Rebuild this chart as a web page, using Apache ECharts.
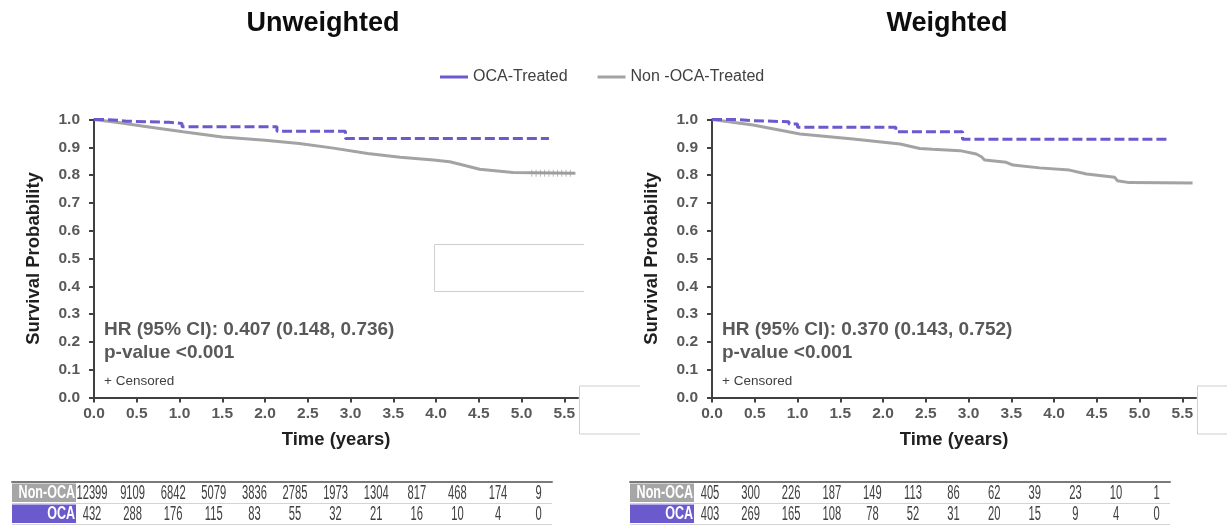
<!DOCTYPE html>
<html>
<head>
<meta charset="utf-8">
<script src="https://cdn.jsdelivr.net/npm/echarts@6/dist/echarts.min.js"></script>
<style>
html,body{margin:0;padding:0;background:#fff;}
#chart{width:1227px;height:527px;}
</style>
</head>
<body>
<div id="chart"></div>
<script>
// ---------- DATA ----------
const xTicks = [0, 0.5, 1, 1.5, 2, 2.5, 3, 3.5, 4, 4.5, 5, 5.5];
const timePoints = [0, 0.5, 1, 1.5, 2, 2.5, 3, 3.5, 4, 4.5, 5, 5.5];
const rowLabels = ['Non-OCA', 'OCA'];

// Kaplan-Meier curves [time, survival]
const ocaUnweighted = [[0,1.0],[0.12,0.997],[0.3,0.994],[0.38,0.99],[0.88,0.986],[1.03,0.974],[2.14,0.958],[2.94,0.932],[5.32,0.932]];
const nonOcaUnweighted = [[0,1.0],[0.3,0.988],[0.6,0.975],[1.04,0.956],[1.5,0.937],[2.0,0.925],[2.4,0.914],[2.8,0.897],[3.2,0.878],[3.58,0.864],[3.97,0.854],[4.16,0.848],[4.36,0.833],[4.51,0.821],[4.75,0.814],[4.9,0.809],[5.63,0.807]];
const ocaWeighted = [[0,1.0],[0.3,0.996],[0.48,0.992],[0.9,0.984],[1.0,0.972],[2.15,0.956],[2.93,0.929],[5.33,0.929]];
const nonOcaWeighted = [[0,1.0],[0.48,0.980],[1.03,0.948],[1.65,0.930],[2.2,0.912],[2.43,0.896],[2.58,0.893],[2.9,0.888],[3.09,0.876],[3.15,0.866],[3.19,0.854],[3.44,0.846],[3.52,0.836],[3.83,0.826],[4.18,0.818],[4.38,0.804],[4.71,0.792],[4.74,0.780],[4.88,0.773],[5.62,0.772]];
const censorNonOcaUnweighted = [[5.12,0.807],[5.17,0.807],[5.22,0.807],[5.27,0.807],[5.32,0.807],[5.37,0.807],[5.42,0.807],[5.47,0.807],[5.52,0.807],[5.57,0.807]];

// Numbers at risk
const riskNonOcaUnweighted = [12399, 9109, 6842, 5079, 3836, 2785, 1973, 1304, 817, 468, 174, 9];
const riskOcaUnweighted = [432, 288, 176, 115, 83, 55, 32, 21, 16, 10, 4, 0];
const riskNonOcaWeighted = [405, 300, 226, 187, 149, 113, 86, 62, 39, 23, 10, 1];
const riskOcaWeighted = [403, 269, 165, 108, 78, 52, 31, 20, 15, 9, 4, 0];

const titles = ['Unweighted', 'Weighted'];
const hrTexts = ['HR (95% CI): 0.407 (0.148, 0.736)', 'HR (95% CI): 0.370 (0.143, 0.752)'];
const pTexts = ['p-value <0.001', 'p-value <0.001'];

// ---------- STYLE / LAYOUT ----------
const FONT = "'Liberation Sans', Arial, Helvetica, sans-serif";
const PURPLE = '#6a5acd';
const GRAY = '#a3a3a3';
const AXIS = '#404040';
const TICKTXT = '#595959';
const PANEL_LEFT = [94, 712];
const PLOT_W = 484, PLOT_TOP = 119.5, PLOT_H = 278, X_MAX = 5.66;
const TBL_LEFT = [12, 630], TBL_W = 540, TBL_TOP = 482, TBL_H = 42;
const TBL_ZERO_OFFSET = 80;          // px from table left edge to first column
const TBL_PX_PER_YEAR = 81.2;
const tblMin = -TBL_ZERO_OFFSET / TBL_PX_PER_YEAR;
const tblMax = tblMin + TBL_W / TBL_PX_PER_YEAR;

const chart = echarts.init(document.getElementById('chart'), null, {renderer: 'canvas'});

const grids = [];
const xAxes = [];
const yAxes = [];
[0, 1].forEach(i => {
  grids.push({left: PANEL_LEFT[i], top: PLOT_TOP, width: PLOT_W, height: PLOT_H, outerBoundsMode: 'none', containLabel: false});
  xAxes.push({
    gridIndex: i, type: 'value', min: 0, max: X_MAX, interval: 0.5,
    name: 'Time (years)', nameLocation: 'middle', nameGap: 33,
    nameTextStyle: {fontFamily: FONT, fontSize: 18.5, fontWeight: 'bold', color: '#1f1f1f'},
    axisLine: {show: true, onZero: false, lineStyle: {color: AXIS, width: 2}},
    axisTick: {show: true, length: 5, lineStyle: {color: AXIS, width: 2}, customValues: xTicks},
    axisLabel: {show: true, customValues: xTicks, margin: 8,
      formatter: v => Number(v).toFixed(1),
      fontFamily: FONT, fontSize: 15.5, fontWeight: 'bold', color: TICKTXT},
    splitLine: {show: false}
  });
  yAxes.push({
    gridIndex: i, type: 'value', min: 0, max: 1, interval: 0.1,
    name: 'Survival Probability', nameLocation: 'middle', nameGap: 51, nameRotate: 90,
    nameTextStyle: {fontFamily: FONT, fontSize: 18.5, fontWeight: 'bold', color: '#1f1f1f'},
    axisLine: {show: true, onZero: false, lineStyle: {color: AXIS, width: 2}},
    axisTick: {show: true, length: 5, lineStyle: {color: AXIS, width: 2}},
    axisLabel: {show: true, margin: 14, formatter: v => Number(v).toFixed(1),
      fontFamily: FONT, fontSize: 15.5, fontWeight: 'bold', color: TICKTXT},
    splitLine: {show: false}
  });
});
[0, 1].forEach(i => {
  grids.push({left: TBL_LEFT[i], top: TBL_TOP, width: TBL_W, height: TBL_H, outerBoundsMode: 'none', containLabel: false});
  xAxes.push({
    gridIndex: 2 + i, type: 'value', min: tblMin, max: tblMax, position: 'top',
    axisLine: {show: true, onZero: false, lineStyle: {color: '#7a7a7a', width: 2}},
    axisTick: {show: false}, axisLabel: {show: false}, splitLine: {show: false}
  });
  yAxes.push({
    gridIndex: 2 + i, type: 'category', data: rowLabels, inverse: true,
    axisLine: {show: false}, axisTick: {show: false}, axisLabel: {show: false},
    splitLine: {show: true, lineStyle: {color: '#d4d4d4', width: 1}}
  });
});

function tableData(nonArr, ocaArr) {
  const out = [];
  timePoints.forEach((t, k) => { out.push([t, 0, nonArr[k]]); });
  timePoints.forEach((t, k) => { out.push([t, 1, ocaArr[k]]); });
  return out;
}
function renderNumber(params, api) {
  const p = api.coord([api.value(0), api.value(1)]);
  return {
    type: 'text', x: p[0], y: p[1] + 0.5, scaleX: 0.56,
    style: {text: String(api.value(2)), fontFamily: FONT, fontSize: 20, fill: '#404040', align: 'center', verticalAlign: 'middle'}
  };
}
const CELL_COLORS = ['#a6a6a6', PURPLE];
function renderCell(params, api) {
  const row = api.value(1);
  const cs = params.coordSys;
  const bandH = api.size([0, 1])[1];
  const cy = api.coord([0, row])[1];
  return {
    type: 'group',
    children: [
      {type: 'rect', shape: {x: cs.x, y: cy - bandH / 2 + 1.5, width: 64, height: bandH - 2.5}, style: {fill: CELL_COLORS[row]}},
      {type: 'text', x: cs.x + 63, y: cy + 0.5, scaleX: 0.66,
        style: {text: rowLabels[row], fontFamily: FONT, fontSize: 19, fontWeight: 'bold', fill: '#ffffff', align: 'right', verticalAlign: 'middle'}}
    ]
  };
}

const censorSymbol = 'path://M-0.12,-1H0.12V-0.12H1V0.12H0.12V1H-0.12V0.12H-1V-0.12H-0.12Z';

const series = [
  {name: 'OCA-Treated', type: 'line', xAxisIndex: 0, yAxisIndex: 0, data: ocaUnweighted, step: 'end', showSymbol: false, z: 4,
    lineStyle: {color: PURPLE, width: 3, type: [10, 4]}, itemStyle: {color: PURPLE}},
  {name: 'Non -OCA-Treated', type: 'line', xAxisIndex: 0, yAxisIndex: 0, data: nonOcaUnweighted, showSymbol: false, z: 3,
    lineStyle: {color: GRAY, width: 3}, itemStyle: {color: GRAY}},
  {name: 'OCA-Treated', type: 'line', xAxisIndex: 1, yAxisIndex: 1, data: ocaWeighted, step: 'end', showSymbol: false, z: 4,
    lineStyle: {color: PURPLE, width: 3, type: [10, 4]}, itemStyle: {color: PURPLE}},
  {name: 'Non -OCA-Treated', type: 'line', xAxisIndex: 1, yAxisIndex: 1, data: nonOcaWeighted, showSymbol: false, z: 3,
    lineStyle: {color: GRAY, width: 3}, itemStyle: {color: GRAY}},
  {name: 'censored', type: 'scatter', xAxisIndex: 0, yAxisIndex: 0, data: censorNonOcaUnweighted, symbol: censorSymbol, symbolSize: 7,
    itemStyle: {color: '#999999'}, z: 3, silent: true},
  {name: 'riskUnweighted', type: 'custom', xAxisIndex: 2, yAxisIndex: 2, data: tableData(riskNonOcaUnweighted, riskOcaUnweighted), renderItem: renderNumber, clip: false, silent: true},
  {name: 'riskWeighted', type: 'custom', xAxisIndex: 3, yAxisIndex: 3, data: tableData(riskNonOcaWeighted, riskOcaWeighted), renderItem: renderNumber, clip: false, silent: true},
  {name: 'cellsUnweighted', type: 'custom', xAxisIndex: 2, yAxisIndex: 2, data: [[0, 0], [0, 1]], renderItem: renderCell, clip: false, silent: true, z: 3},
  {name: 'cellsWeighted', type: 'custom', xAxisIndex: 3, yAxisIndex: 3, data: [[0, 0], [0, 1]], renderItem: renderCell, clip: false, silent: true, z: 3}
];

const graphic = [];
const TITLE_X = [323, 947];
[0, 1].forEach(i => {
  graphic.push({type: 'text', x: TITLE_X[i], y: 24, z: 10,
    style: {text: titles[i], fontFamily: FONT, fontSize: 27, fontWeight: 'bold', fill: '#0d0d0d', align: 'center', verticalAlign: 'middle'}});
  const ax = PANEL_LEFT[i] + 10;
  graphic.push({type: 'text', x: ax, y: 330, z: 10,
    style: {text: hrTexts[i], fontFamily: FONT, fontSize: 19, fontWeight: 'bold', fill: '#595959', align: 'left', verticalAlign: 'middle'}});
  graphic.push({type: 'text', x: ax, y: 352.5, z: 10,
    style: {text: pTexts[i], fontFamily: FONT, fontSize: 19, fontWeight: 'bold', fill: '#595959', align: 'left', verticalAlign: 'middle'}});
  graphic.push({type: 'text', x: ax, y: 381, z: 10,
    style: {text: '+ Censored', fontFamily: FONT, fontSize: 13.5, fill: '#404040', align: 'left', verticalAlign: 'middle'}});
});
// white patch boxes present in the reference
function patch(x0, y0, x1, y1) {
  graphic.push({type: 'rect', z: 50, shape: {x: x0, y: y0, width: x1 - x0, height: y1 - y0}, style: {fill: '#ffffff'}});
  graphic.push({type: 'polyline', z: 51, shape: {points: [[x1, y0 + 0.5], [x0 + 0.5, y0 + 0.5], [x0 + 0.5, y1 - 0.5], [x1, y1 - 0.5]]},
    style: {stroke: '#cfcfcf', lineWidth: 1, fill: null}});
}
patch(434, 244, 584, 292);
patch(579, 385.5, 640, 434.5);
patch(1197, 385.5, 1227, 434.5);

chart.setOption({
  backgroundColor: '#ffffff',
  animation: false,
  legend: {
    data: ['OCA-Treated', 'Non -OCA-Treated'],
    left: 435, top: 64, icon: 'rect', itemWidth: 28, itemHeight: 3, itemGap: 30,
    textStyle: {fontFamily: FONT, fontSize: 16, color: '#404040'},
    selectedMode: false
  },
  grid: grids,
  xAxis: xAxes,
  yAxis: yAxes,
  series: series,
  graphic: graphic
});
</script>
</body>
</html>
